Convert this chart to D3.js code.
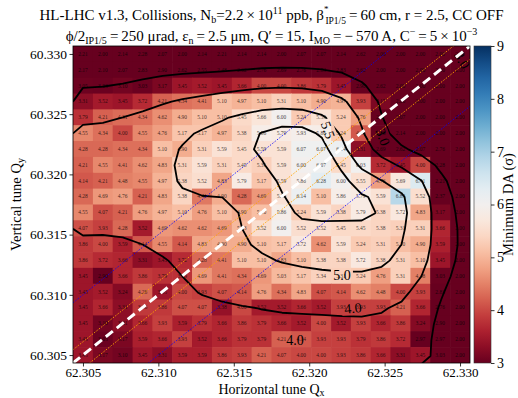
<!DOCTYPE html>
<html><head><meta charset="utf-8">
<script src="https://cdn.jsdelivr.net/npm/d3@7"></script>
<style>body{margin:0;background:#fff}</style>
</head><body><svg id="c" width="518" height="398" xmlns="http://www.w3.org/2000/svg"></svg>
<script>
// Horizontal tune values (columns), vertical tune values (rows, top to bottom)
const qxValues = [62.30500,62.30632,62.30763,62.30895,62.31026,62.31158,62.31289,62.31421,62.31553,62.31684,62.31816,62.31947,62.32079,62.32211,62.32342,62.32474,62.32605,62.32737,62.32868,62.33000];
const qyValues = [60.33000,60.32868,60.32737,60.32605,60.32474,60.32342,60.32211,60.32079,60.31947,60.31816,60.31684,60.31553,60.31421,60.31289,60.31158,60.31026,60.30895,60.30763,60.30632,60.30500];
// Minimum DA (sigma), one array per row, top row = Qy 60.330
const da00 = [2.21,2.00,2.14,2.28,2.07,2.00,2.14,2.21,2.14,2.14,2.00,2.07,2.07,2.14,2.62,2.00,2.00,2.00,2.00,2.00];
const da01 = [2.17,2.10,2.07,2.83,2.90,2.62,2.55,2.48,2.62,2.76,2.69,2.76,2.83,2.83,2.62,2.00,2.00,2.00,2.00,2.00];
const da02 = [3.05,3.03,3.10,3.03,3.17,3.45,3.52,3.45,3.66,4.00,4.00,3.86,3.79,3.45,2.90,2.62,2.00,2.00,2.00,2.00];
const da03 = [3.31,3.52,3.45,3.72,4.21,4.34,4.41,5.10,4.97,5.10,5.31,5.10,4.90,4.97,3.93,3.17,2.00,2.00,2.00,2.00];
const da04 = [3.79,4.21,4.31,4.34,4.62,4.90,5.10,5.10,5.45,5.66,6.00,5.24,5.59,5.24,4.76,2.07,2.07,2.00,2.00,2.00];
const da05 = [4.55,4.34,4.00,4.55,4.76,5.17,5.17,4.97,5.38,5.86,5.79,5.93,5.86,5.24,4.14,2.28,2.14,2.00,2.00,2.00];
const da06 = [4.28,4.28,4.34,4.34,5.10,4.90,5.31,5.59,5.45,5.59,5.59,6.07,6.07,6.14,3.31,2.69,2.62,2.07,2.76,2.00];
const da07 = [4.21,4.55,4.41,4.62,4.83,5.31,5.59,5.31,5.45,5.31,5.59,6.00,6.07,5.45,6.03,3.72,3.45,4.00,2.28,2.00];
const da08 = [4.14,4.21,4.48,4.55,4.97,5.38,5.52,4.83,5.79,5.17,5.59,5.86,6.28,6.00,5.55,4.76,5.69,6.41,2.21,2.00];
const da09 = [4.28,4.69,4.76,4.21,4.83,5.38,4.41,4.90,4.28,4.69,5.59,6.14,5.10,5.86,5.79,5.59,6.83,5.52,2.37,2.00];
const da10 = [4.55,4.07,4.21,4.76,4.97,5.10,4.76,5.10,4.90,5.10,5.86,5.24,5.59,5.38,5.79,5.38,5.72,4.83,3.17,2.00];
const da11 = [4.07,3.93,4.28,3.52,4.69,4.62,4.62,4.69,5.03,5.52,6.00,5.52,5.52,5.45,5.45,5.38,5.31,5.31,3.66,2.00];
const da12 = [3.86,4.00,3.59,4.14,4.55,4.14,4.83,4.90,4.90,5.10,5.17,5.72,4.62,5.59,5.24,5.31,5.10,4.90,3.59,2.00];
const da13 = [3.86,3.72,3.66,3.31,3.45,3.72,4.28,4.41,5.10,5.10,4.83,5.10,5.38,5.38,5.72,5.38,5.31,5.10,3.45,2.00];
const da14 = [3.45,2.90,3.66,3.86,3.79,3.79,4.69,4.41,4.34,4.69,5.03,5.17,5.34,5.31,5.24,4.76,5.31,4.48,3.03,2.00];
const da15 = [3.45,3.52,3.24,4.28,3.45,4.00,3.93,4.07,4.14,4.76,4.34,4.83,4.07,4.14,4.62,4.48,4.00,3.93,2.83,2.00];
const da16 = [3.45,3.66,3.31,3.86,3.86,4.07,4.07,3.38,4.00,3.52,3.52,3.66,3.52,3.93,3.93,3.93,4.21,3.66,2.76,2.00];
const da17 = [3.45,3.10,3.31,3.66,3.93,3.59,3.79,3.66,3.86,3.79,3.66,3.52,4.00,3.52,3.93,3.66,3.86,3.24,2.90,2.00];
const da18 = [3.45,3.03,3.17,3.59,3.66,3.93,3.52,3.66,3.79,3.79,4.21,4.14,3.93,3.93,3.79,3.86,3.72,2.97,2.97,2.00];
const da19 = [3.45,3.17,3.10,3.45,3.31,3.59,3.59,3.86,3.93,4.21,4.07,4.00,4.00,3.93,3.86,3.66,3.31,3.45,3.03,2.00];
const daRows = [da00,da01,da02,da03,da04,da05,da06,da07,da08,da09,da10,da11,da12,da13,da14,da15,da16,da17,da18,da19];

const xTicks = [62.305,62.310,62.315,62.320,62.325,62.330];
const yTicks = [60.305,60.310,60.315,60.320,60.325,60.330];
const cbTicks = [3,4,5,6,7,8,9];
const contourLevels = [3.0,4.0,5.0,5.5];
// resonance-line offsets in Qy - Qx + 2
const coupLine = [0.0];
const orangeLines = [-0.0011,0.0011];
const blueLines = [-0.005,0.005];
// inline contour labels: level, Qx, Qy, angle
const labelLevels = [5.5,3.0,3.0,5.0,4.0,4.0];
const labelQx = [62.32125,62.32489,62.33013,62.32217,62.32290,62.31906];
const labelQy = [60.32369,60.32311,60.32950,60.31164,60.30890,60.30625];
const labelAngle = [70,70,60,0,-5,0];

const svg = d3.select('#c');
const M = {l:73,r:470,t:46,b:363};
const hx = (qxValues[1]-qxValues[0])/2;
const hy = (qyValues[0]-qyValues[1])/2;
const x = d3.scaleLinear().domain([qxValues[0]-hx, qxValues[qxValues.length-1]+hx]).range([M.l,M.r]);
const y = d3.scaleLinear().domain([qyValues[qyValues.length-1]-hy, qyValues[0]+hy]).range([M.b,M.t]);
const cval = d3.scaleLinear().domain([3,9]).range([0,1]).clamp(true);
const color = v => d3.interpolateRdBu(cval(v));
const serif = "'Liberation Serif','DejaVu Serif',serif";

const defs = svg.append('defs');
defs.append('clipPath').attr('id','clip').append('rect')
  .attr('x',M.l).attr('y',M.t).attr('width',M.r-M.l).attr('height',M.b-M.t);

// heatmap cells
const cells = [];
daRows.forEach((row,r)=>row.forEach((v,c)=>cells.push({qx:qxValues[c],qy:qyValues[r],v})));
const gH = svg.append('g').attr('clip-path','url(#clip)');
gH.selectAll('rect').data(cells).join('rect')
  .attr('x',d=>x(d.qx-hx)).attr('y',d=>y(d.qy+hy))
  .attr('width',d=>x(d.qx+hx)-x(d.qx-hx)+0.6)
  .attr('height',d=>y(d.qy-hy)-y(d.qy+hy)+0.6)
  .attr('fill',d=>color(d.v));
gH.selectAll('text').data(cells).join('text')
  .attr('x',d=>x(d.qx)).attr('y',d=>y(d.qy)+1.9)
  .attr('text-anchor','middle').attr('font-family',serif).attr('font-size',5.5)
  .attr('fill','#000').attr('fill-opacity',0.75)
  .text(d=>d3.format('.2f')(d.v));

// contours (on a lightly smoothed copy of the grid)
const n = qxValues.length, m = qyValues.length;
const flat = [];
daRows.forEach(row=>row.forEach(v=>flat.push(v)));
const smooth = d3.blur2({data: flat.slice(), width: n}, 0.55).data;
const cs = d3.contours().size([n,m]).thresholds(contourLevels)(smooth);
const gxs = g => x(qxValues[0] + (g-0.5)*2*hx);
const gys = g => y(qyValues[0] - (g-0.5)*2*hy);
const onB = p => p[0]<=0||p[0]>=n||p[1]<=0||p[1]>=m;
function ringToLines(ring){
  const pts = ring.slice(0,-1); const L = pts.length;
  const bad = i => onB(pts[i]) && onB(pts[(i+1)%L]);
  let start=-1; for(let i=0;i<L;i++){ if(bad(i)){start=i;break;} }
  if(start<0) return [ring];
  const lines=[]; let cur=null;
  for(let k=1;k<=L;k++){ const i=(start+k)%L;
    if(bad(i)){ if(cur&&cur.length>1) lines.push(cur); cur=null; }
    else { if(!cur) cur=[pts[i]]; cur.push(pts[(i+1)%L]); } }
  if(cur&&cur.length>1) lines.push(cur);
  return lines;
}
const lines = [];
cs.forEach(c=>c.coordinates.forEach(poly=>poly.forEach(ring=>ringToLines(ring).forEach(l=>lines.push(l)))));
const lineGen = d3.line().x(p=>gxs(p[0])).y(p=>gys(p[1]));

// mask for inline labels
const mask = defs.append('mask').attr('id','lblmask').attr('maskUnits','userSpaceOnUse')
  .attr('x',0).attr('y',0).attr('width',518).attr('height',398);
mask.append('rect').attr('x',0).attr('y',0).attr('width',518).attr('height',398).attr('fill','#fff');
labelLevels.forEach((lv,i)=>{
  mask.append('rect').attr('x',-11).attr('y',-7).attr('width',22).attr('height',14).attr('fill','#000')
    .attr('transform',`translate(${x(labelQx[i])},${y(labelQy[i])}) rotate(${labelAngle[i]})`);
});
const gC = svg.append('g').attr('clip-path','url(#clip)');
gC.append('g').attr('mask','url(#lblmask)').selectAll('path').data(lines).join('path')
  .attr('d',lineGen).attr('fill','none').attr('stroke','#000').attr('stroke-width',1.8)
  .attr('stroke-linejoin','round');
labelLevels.forEach((lv,i)=>{
  svg.append('text').attr('transform',`translate(${x(labelQx[i])},${y(labelQy[i])}) rotate(${labelAngle[i]})`)
    .attr('text-anchor','middle').attr('dy','0.35em').attr('font-family',serif).attr('font-size',14)
    .text(d3.format('.1f')(lv));
});

// resonance lines (Qy = Qx - 2 + offset)
const gR = svg.append('g').attr('clip-path','url(#clip)');
const xd = x.domain();
const resLine = off => d3.line()([[x(xd[0]),y(xd[0]-2+off)],[x(xd[1]),y(xd[1]-2+off)]]);
blueLines.forEach(o=>gR.append('path').attr('d',resLine(o)).attr('stroke','#0000ff').attr('stroke-width',0.8)
  .attr('stroke-dasharray','1.5,1.5').attr('fill','none'));
orangeLines.forEach(o=>gR.append('path').attr('d',resLine(o)).attr('stroke','#ffa500').attr('stroke-width',0.9)
  .attr('stroke-dasharray','1.5,1.5').attr('fill','none'));
coupLine.forEach(o=>gR.append('path').attr('d',resLine(o)).attr('stroke','#fff').attr('stroke-width',3)
  .attr('stroke-dasharray','9,5').attr('fill','none'));

// frame
svg.append('rect').attr('x',M.l).attr('y',M.t).attr('width',M.r-M.l).attr('height',M.b-M.t)
  .attr('fill','none').attr('stroke','#000').attr('stroke-width',0.8);

// axes
const ax = svg.append('g').attr('transform',`translate(0,${M.b})`)
  .call(d3.axisBottom(x).tickValues(xTicks).tickFormat(d3.format('.3f')).tickSize(3.5).tickPadding(1.5));
const ay = svg.append('g').attr('transform',`translate(${M.l},0)`)
  .call(d3.axisLeft(y).tickValues(yTicks).tickFormat(d3.format('.3f')).tickSize(3.5).tickPadding(2.5));
[ax,ay].forEach(a=>{a.select('.domain').remove();
  a.selectAll('text').attr('font-family',serif).attr('font-size',13.5).attr('fill','#000');
  a.selectAll('line').attr('stroke','#000').attr('stroke-width',0.8);});
ax.selectAll('text').attr('font-size',13);

// axis labels
const xl = svg.append('text').attr('x',(M.l+M.r)/2).attr('y',393.5).attr('text-anchor','middle')
  .attr('font-family',serif).attr('font-size',14);
xl.append('tspan').text('Horizontal tune Q');
xl.append('tspan').attr('dy',2).attr('font-size',10).text('x');
const yl = svg.append('text').attr('transform',`translate(21,${(M.t+M.b)/2}) rotate(-90)`).attr('text-anchor','middle')
  .attr('font-family',serif).attr('font-size',14.5);
yl.append('tspan').text('Vertical tune Q');
yl.append('tspan').attr('dy',2.5).attr('font-size',10).text('y');

// colorbar
const cb = {l:474,r:491};
const cy = d3.scaleLinear().domain([3,9]).range([M.b,M.t]);
const grad = defs.append('linearGradient').attr('id','cbg').attr('x1',0).attr('y1',1).attr('x2',0).attr('y2',0);
d3.range(0,1.0001,0.05).forEach(t=>grad.append('stop').attr('offset',t).attr('stop-color',d3.interpolateRdBu(t)));
svg.append('rect').attr('x',cb.l).attr('y',M.t).attr('width',cb.r-cb.l).attr('height',M.b-M.t)
  .attr('fill','url(#cbg)').attr('stroke','#333').attr('stroke-width',0.6);
const acb = svg.append('g').attr('transform',`translate(${cb.r},0)`)
  .call(d3.axisRight(cy).tickValues(cbTicks).tickFormat(d3.format('d')).tickSize(3.5).tickPadding(2.5));
acb.select('.domain').remove();
acb.selectAll('text').attr('font-family',serif).attr('font-size',14).attr('fill','#000');
acb.selectAll('line').attr('stroke','#000').attr('stroke-width',0.8);
svg.append('text').attr('transform',`translate(513,${(M.t+M.b)/2}) rotate(-90)`).attr('text-anchor','middle')
  .attr('font-family',serif).attr('font-size',14.5).text('Minimum DA (σ)');

// title
const t1 = svg.append('text').attr('x',(M.l+M.r)/2).attr('y',20).attr('text-anchor','middle')
  .attr('font-family',serif).attr('font-size',15);
t1.append('tspan').text('HL-LHC v1.3, Collisions, N');
t1.append('tspan').attr('dy',3).attr('font-size',10).text('b');
t1.append('tspan').attr('dy',-3).text('=2.2\u2009×\u200910');
t1.append('tspan').attr('dy',-6).attr('font-size',10).text('11');
t1.append('tspan').attr('dy',6).text(' ppb, β');
t1.append('tspan').attr('dy',-8).attr('font-size',9).text('*');
t1.append('tspan').attr('dy',12).attr('dx',-3).attr('font-size',9.5).text('IP1/5');
t1.append('tspan').attr('dy',-4).text('\u2009=\u200960 cm, r = 2.5, CC OFF');
const t2 = svg.append('text').attr('x',(M.l+M.r)/2).attr('y',41).attr('text-anchor','middle')
  .attr('font-family',serif).attr('font-size',15);
t2.append('tspan').text('ϕ/2');
t2.append('tspan').attr('dy',3).attr('font-size',10).text('IP1/5');
t2.append('tspan').attr('dy',-3).text('\u2009=\u2009250 μrad, ε');
t2.append('tspan').attr('dy',3).attr('font-size',10).text('n');
t2.append('tspan').attr('dy',-3).text('\u2009=\u20092.5 μm, Q′\u2009=\u200915, I');
t2.append('tspan').attr('dy',3).attr('font-size',10).text('MO');
t2.append('tspan').attr('dy',-3).text('\u2009=\u2009−\u2009570 A, C');
t2.append('tspan').attr('dy',-6).attr('font-size',10).text('−');
t2.append('tspan').attr('dy',6).text('\u2009=\u20095\u2009×\u200910');
t2.append('tspan').attr('dy',-6).attr('font-size',10).text('−3');
</script></body></html>
